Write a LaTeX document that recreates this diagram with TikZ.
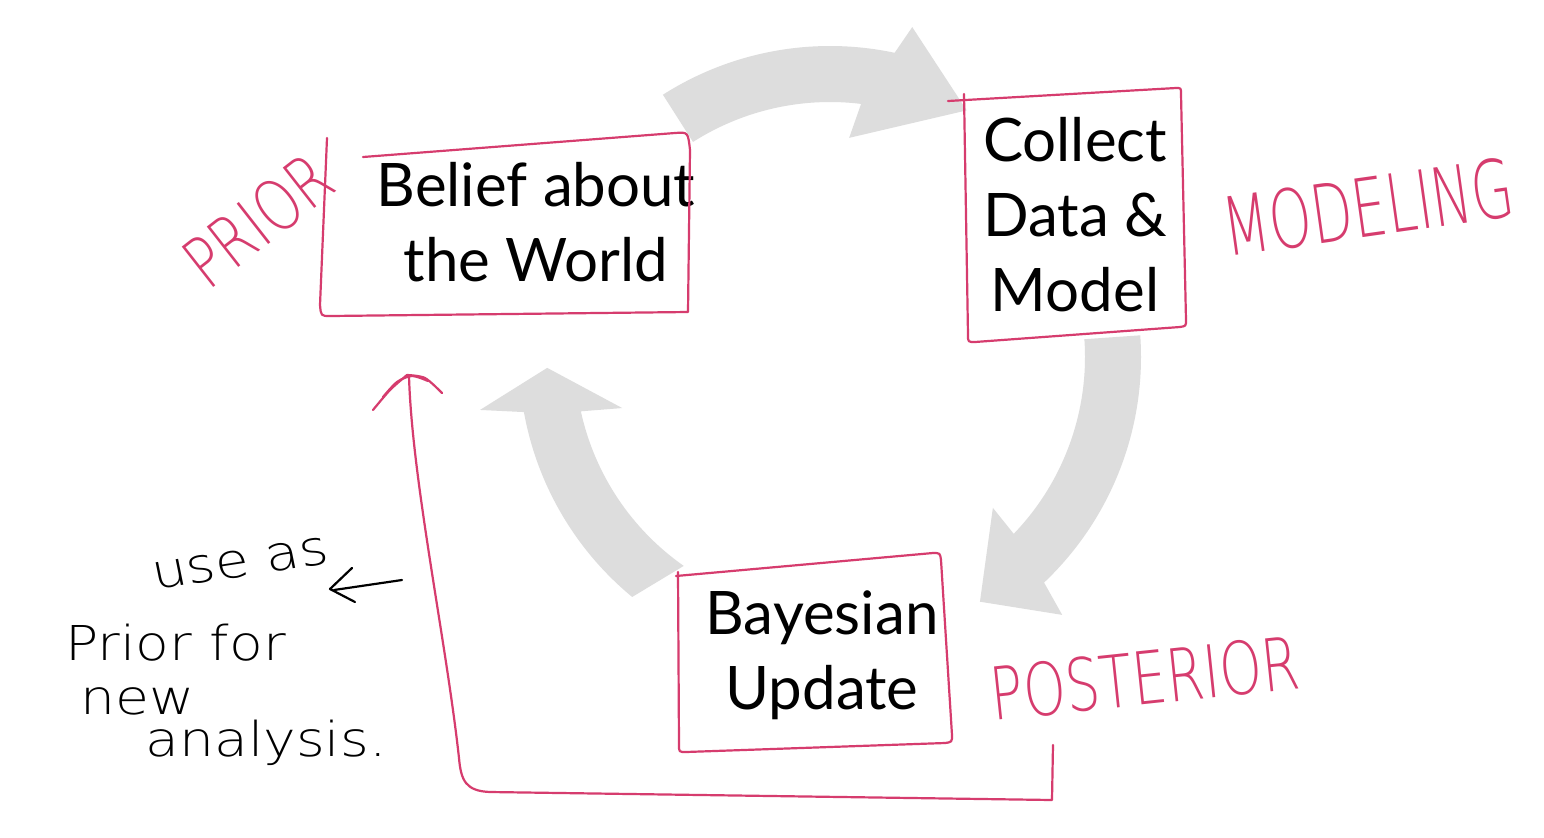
\documentclass[tikz,border=0pt]{standalone}
\usepackage{fontspec}
\newfontfamily\boxfont{Lato}
\newfontfamily\handfont{DejaVu Sans ExtraLight}
\usetikzlibrary{calc}
\definecolor{hpink}{RGB}{214,60,110}
\definecolor{agray}{RGB}{221,221,221}
\begin{document}
\begin{tikzpicture}[x=0.5pt,y=-0.5pt,
  handbox/.style={draw=hpink,line width=1.1pt,line cap=round,line join=round},
  pinkink/.style={draw=hpink,line width=1.1pt,line cap=round,line join=round},
  blackink/.style={draw=black,line width=1.1pt,line cap=round,line join=round},
  boxtext/.style={font=\boxfont\fontsize{30}{37.5}\selectfont,align=center,inner sep=0pt},
  pinkhand/.style={text=hpink,font=\handfont\fontsize{27}{30}\selectfont,inner sep=0pt},
  blackhand/.style={text=black,font=\handfont\fontsize{24}{28}\selectfont,inner sep=0pt,xscale=1.15},
  arrowfill/.style={fill=agray}]
\useasboundingbox (0,0) rectangle (1544,837);
\fill[white] (0,0) rectangle (1544,837);

% gray cycle arrows
\begin{scope}[shift={(830,357)}]
  \fill[arrowfill] (-122.5:311) arc[start angle=-122.5,end angle=-78,radius=311]
    -- (-76:340) -- (-61:282) -- (-85:220) -- (-83:255)
    arc[start angle=-83,end angle=-122.5,radius=255] -- cycle;
  \fill[arrowfill] (-4:311) arc[start angle=-4,end angle=46.5,radius=311]
    -- (48:347) -- (58.5:287) -- (42.8:222) -- (43.9:255)
    arc[start angle=43.9,end angle=-4,radius=255] -- cycle;
  \fill[arrowfill] (129.5:311) arc[start angle=129.5,end angle=169.8,radius=311]
    -- (171.4:354) -- (177.8:283) -- (166.2:214) -- (167.7:255)
    arc[start angle=167.7,end angle=125,radius=255] -- cycle;
\end{scope}

% box texts
\node[boxtext] (belief) at (536,222) {Belief about\\the World};
\node[boxtext] (collect) at (1075,215) {Collect\\Data \&\\Model};
\node[boxtext] (bayes) at (822,655) {Bayesian\\Update};

% hand-drawn boxes
\draw[handbox] (363,157) -- (675,133) .. controls (688,132) .. (690,150)
  -- (688,312) -- (330,316) .. controls (321,316) .. (320,305) -- (327,138);
\draw[handbox] (948,101) -- (1176,88) .. controls (1181,88) .. (1181,94)
  -- (1186,320) .. controls (1186,326) .. (1180,327) -- (975,342)
  .. controls (968,342) .. (968,335) -- (964,94);
\draw[handbox] (676,576) -- (933,553) .. controls (940,553) .. (941,560)
  -- (952,735) .. controls (952,742) .. (945,743) -- (686,752)
  .. controls (679,752) .. (679,745) -- (678,572);

% pink handwriting
\node[pinkhand,rotate=38,yscale=1.3] (prior) at (258,220) {PRIOR};
\node[pinkhand,rotate=8,yscale=1.5] (modeling) at (1368,207) {MODELING};
\node[pinkhand,rotate=6,yscale=1.35] (posterior) at (1145,678) {POSTERIOR};

% loop-back connector
\coordinate (p0) at (1053,745);
\coordinate (p1) at (409,376);
\draw[pinkink] (p0) -- (1052,800) -- (490,792)
  .. controls (466,791) and (461,781) .. (459,758)
  .. controls (446,640) and (412,480) .. (p1);
\draw[pinkink] plot[smooth] coordinates {(373,410) (390,390) (407,375)};
\draw[pinkink] plot[smooth] coordinates {(407,375) (425,378) (442,393)};
\draw[pinkink] plot[smooth] coordinates {(383,397) (397,382) (412,376) (428,381)};

% black handwriting
\node[blackhand,anchor=base west,rotate=10] (useas) at (155,590) {use as};
\node[blackhand,anchor=base west] (priorfor) at (65,660) {Prior for};
\node[blackhand,anchor=base west] (new) at (80,714) {new};
\node[blackhand,anchor=base west] (analysis) at (145,756) {analysis.};
\coordinate (a0) at (402,580);
\coordinate (a1) at (334,590);
\draw[blackink] (a0) -- (a1);
\draw[blackink] (352,568) -- (330,589) -- (355,602);
\end{tikzpicture}
\end{document}
